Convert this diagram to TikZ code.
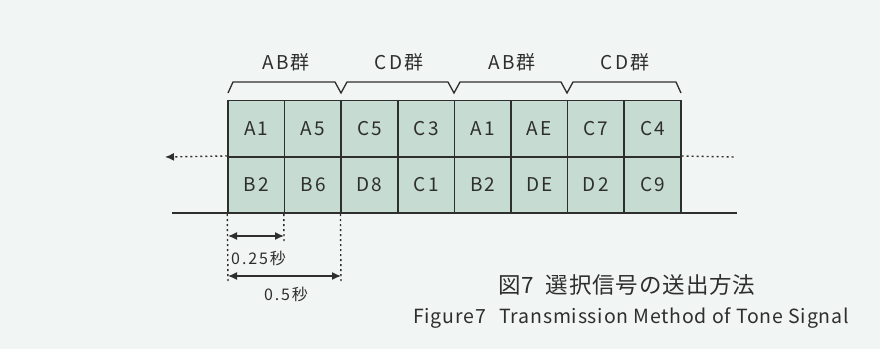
\documentclass[tikz,border=0pt]{standalone}
\usepackage{fontspec}
\setmainfont{Noto Sans CJK JP}
\newfontfamily\widefont[LetterSpace=12]{Noto Sans CJK JP}
\newfontfamily\capfont[LetterSpace=4]{Noto Sans CJK JP}
\usetikzlibrary{arrows.meta}
\definecolor{bg}{HTML}{F1F5F3}
\definecolor{cellfill}{HTML}{C6DCD2}
\definecolor{ink}{HTML}{2E2E2E}
\tikzset{
  cell/.style={draw=ink, line width=1.5pt, fill=cellfill, minimum width=56.6pt, minimum height=56.5pt, inner sep=0pt, font=\widefont\fontsize{19pt}{21pt}\selectfont, text=ink},
  grp/.style={font=\widefont\fontsize{19pt}{21pt}\selectfont, text=ink},
  brace/.style={draw=ink, line width=1.3pt},
  dots/.style={draw=ink, line width=1.4pt, dash pattern=on 2pt off 3pt},
  dimarrow/.style={draw=ink, line width=1.4pt, {Latex[length=9pt,width=8pt]}-{Latex[length=9pt,width=8pt]}},
  dimlabel/.style={font=\widefont\fontsize{16pt}{18pt}\selectfont, text=ink, inner sep=0pt},
}
\begin{document}
\begin{tikzpicture}[x=1pt,y=-1pt]
\fill[bg] (0,0) rectangle (880,349);
\useasboundingbox (0,0) rectangle (880,349);
% cells
\foreach \t/\b [count=\i from 0] in {A1/B2,A5/B6,C5/D8,C3/C1,A1/B2,AE/DE,C7/D2,C4/C9}{
  \node[cell] (t\i) at ({228+56.6*\i+28.3},128.5) {\t};
  \node[cell] (b\i) at ({228+56.6*\i+28.3},185) {\b};
}
% baseline
\coordinate (bl) at (172,213);
\coordinate (br) at (737,213);
\draw[ink, line width=1.6pt] (bl) -- (br);
% dashed arrows
\coordinate (la) at (165,157);
\coordinate (ra) at (735,157);
\draw[dots, -{Latex[length=9pt,width=8pt]}] (b0.north west) -- (la);
\draw[dots] (b7.north east) -- (ra);
% braces
\draw[brace] (228,93) -- (233,82) -- (335,82) -- (341,93) -- (347,82) -- (448,82) -- (454,93) -- (460,82) -- (561,82) -- (567,93) -- (573,82) -- (676,82) -- (681,93);
\node[grp] (g1) at (286,62) {AB群};
\node[grp] (g2) at (399,62) {CD群};
\node[grp] (g3) at (512,62) {AB群};
\node[grp] (g4) at (625,62) {CD群};
% dimension lines
\coordinate (d0) at (228,282);
\coordinate (d1) at (284,243);
\coordinate (d2) at (341,282);
\draw[dots] (b0.south west) -- (d0);
\draw[dots] (b1.south west) -- (d1);
\draw[dots] (b2.south west) -- (d2);
\coordinate (a0) at (228,236);
\coordinate (a1) at (284,236);
\coordinate (c0) at (228,276);
\coordinate (c2) at (341,276);
\draw[dimarrow] (a0) -- (a1);
\draw[dimarrow] (c0) -- (c2);
\node[dimlabel, anchor=west] (l1) at (231,258) {0.25秒};
\node[dimlabel] (l2) at (286,294) {0.5秒};
% captions
\node[font=\capfont\fontsize{22.5pt}{26pt}\selectfont, text=ink] (cap1) at (627,285) {図7\hspace{0.5em}選択信号の送出方法};
\node[font=\capfont\fontsize{19.5pt}{22pt}\selectfont, text=ink, anchor=west, inner sep=0pt] (cap2) at (413,318) {Figure7\hspace{0.7em}Transmission Method of Tone Signal};
\end{tikzpicture}
\end{document}
